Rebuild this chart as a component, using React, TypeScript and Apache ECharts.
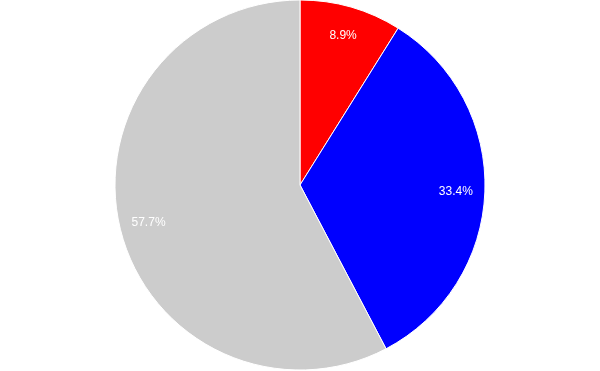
import React, { useEffect, useRef } from "react";
import * as echarts from "echarts";

const categories = ["A", "B", "C"];
const values = [8.9, 33.4, 57.7];
const colors = ["#ff0000", "#0000ff", "#cccccc"];

export default function App() {
  const ref = useRef<HTMLDivElement>(null);
  useEffect(() => {
    if (!ref.current) return;
    const chart = echarts.init(ref.current, undefined, { renderer: "svg" });
    const data = categories.map((c, i) => ({
      name: c,
      value: values[i],
      itemStyle: { color: colors[i] },
    }));
    chart.setOption({
      animation: false,
      series: [
        {
          type: "pie",
          center: [300, 185],
          radius: [0, 185],
          startAngle: 90,
          clockwise: true,
          silent: true,
          data,
          itemStyle: { borderColor: "#ffffff", borderWidth: 1 },
          label: { show: false },
          labelLine: { show: false },
        },
        {
          type: "pie",
          center: [300, 185],
          radius: [121, 185],
          startAngle: 90,
          clockwise: true,
          silent: true,
          data: categories.map((c, i) => ({
            name: c,
            value: values[i],
            itemStyle: { color: "transparent" },
          })),
          label: {
            show: true,
            position: "inside",
            formatter: (p: any) => p.value.toFixed(1) + "%",
            color: "#ffffff",
            fontSize: 12,
            fontFamily: "Liberation Sans, Arial, sans-serif",
          },
          labelLine: { show: false },
        },
      ],
    });
    return () => chart.dispose();
  }, []);
  return (
    <div
      ref={ref}
      style={{ position: "fixed", left: 0, top: 0, width: 600, height: 371 }}
    />
  );
}
